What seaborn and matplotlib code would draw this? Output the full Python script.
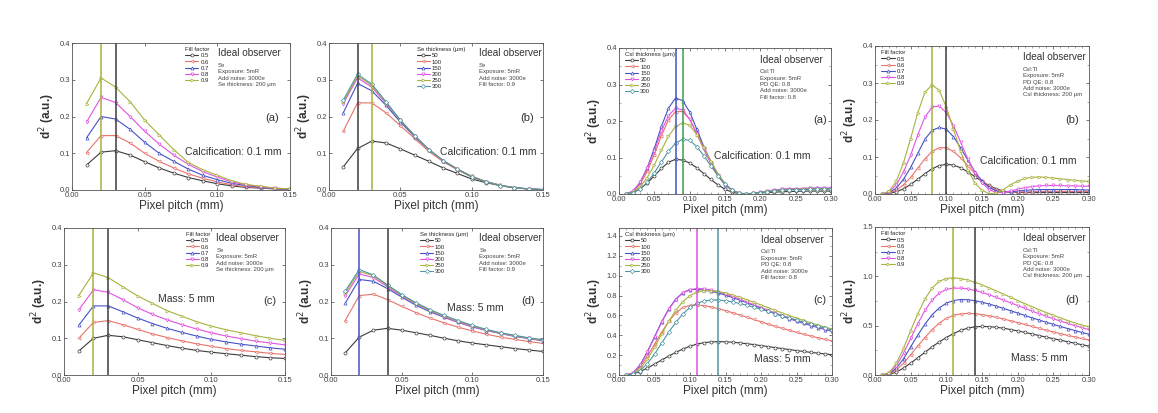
import matplotlib
matplotlib.use("Agg")
import matplotlib.pyplot as plt
import seaborn as sns
from matplotlib.ticker import AutoMinorLocator

# pixel pitch (mm)
se_pitch = [0.01, 0.02, 0.03, 0.04, 0.05, 0.06, 0.07, 0.08, 0.09, 0.10, 0.11, 0.12, 0.13, 0.14, 0.15]
csi_pitch = [0.01, 0.02, 0.03, 0.04, 0.05, 0.06, 0.07, 0.08, 0.09, 0.10,
             0.11, 0.12, 0.13, 0.14, 0.15, 0.16, 0.17, 0.18, 0.19, 0.20,
             0.21, 0.22, 0.23, 0.24, 0.25, 0.26, 0.27, 0.28, 0.29, 0.30]

fill_labels = ['0.5', '0.6', '0.7', '0.8', '0.9']
thick_labels = ['50', '100', '150', '200', '250', '300']

# Se, calcification, fill factor
se_calc_fill = [
    [0.068, 0.103, 0.107, 0.095, 0.077, 0.060, 0.046, 0.034, 0.025, 0.017, 0.011, 0.007, 0.005, 0.003, 0.001],
    [0.102, 0.148, 0.148, 0.128, 0.100, 0.078, 0.060, 0.044, 0.032, 0.022, 0.014, 0.009, 0.006, 0.003, 0.002],
    [0.142, 0.200, 0.193, 0.165, 0.130, 0.100, 0.078, 0.057, 0.040, 0.028, 0.018, 0.012, 0.007, 0.004, 0.002],
    [0.185, 0.252, 0.238, 0.200, 0.160, 0.125, 0.095, 0.070, 0.050, 0.035, 0.022, 0.014, 0.009, 0.005, 0.003],
    [0.235, 0.305, 0.280, 0.240, 0.190, 0.150, 0.110, 0.075, 0.055, 0.040, 0.025, 0.015, 0.010, 0.005, 0.003],
]
# Se, calcification, Se thickness
se_calc_thick = [
    [0.063, 0.113, 0.133, 0.128, 0.112, 0.095, 0.078, 0.060, 0.045, 0.030, 0.020, 0.012, 0.006, 0.003, 0.001],
    [0.160, 0.237, 0.237, 0.210, 0.175, 0.140, 0.105, 0.077, 0.055, 0.035, 0.022, 0.012, 0.006, 0.003, 0.001],
    [0.210, 0.290, 0.270, 0.230, 0.185, 0.145, 0.110, 0.080, 0.057, 0.037, 0.023, 0.013, 0.006, 0.003, 0.001],
    [0.235, 0.305, 0.280, 0.235, 0.190, 0.148, 0.110, 0.080, 0.057, 0.037, 0.023, 0.013, 0.006, 0.003, 0.001],
    [0.240, 0.310, 0.285, 0.238, 0.190, 0.148, 0.110, 0.080, 0.057, 0.037, 0.023, 0.013, 0.006, 0.003, 0.001],
    [0.245, 0.315, 0.288, 0.240, 0.190, 0.148, 0.110, 0.080, 0.056, 0.036, 0.022, 0.012, 0.006, 0.003, 0.001],
]
# Se, mass, fill factor
se_mass_fill = [
    [0.065, 0.100, 0.108, 0.104, 0.096, 0.088, 0.080, 0.073, 0.067, 0.062, 0.058, 0.054, 0.050, 0.047, 0.045],
    [0.100, 0.143, 0.148, 0.137, 0.124, 0.112, 0.102, 0.093, 0.085, 0.078, 0.072, 0.067, 0.063, 0.059, 0.056],
    [0.135, 0.188, 0.188, 0.172, 0.155, 0.140, 0.127, 0.116, 0.106, 0.097, 0.090, 0.084, 0.079, 0.074, 0.070],
    [0.177, 0.232, 0.225, 0.205, 0.183, 0.165, 0.150, 0.137, 0.125, 0.115, 0.106, 0.099, 0.092, 0.087, 0.082],
    [0.216, 0.278, 0.265, 0.240, 0.215, 0.195, 0.175, 0.160, 0.145, 0.133, 0.123, 0.115, 0.107, 0.100, 0.094],
]
# Se, mass, Se thickness
se_mass_thick = [
    [0.060, 0.103, 0.122, 0.127, 0.122, 0.115, 0.108, 0.100, 0.093, 0.087, 0.082, 0.077, 0.072, 0.068, 0.064],
    [0.148, 0.216, 0.220, 0.205, 0.187, 0.170, 0.155, 0.142, 0.130, 0.120, 0.111, 0.103, 0.097, 0.091, 0.086],
    [0.195, 0.260, 0.255, 0.235, 0.212, 0.190, 0.172, 0.157, 0.143, 0.131, 0.121, 0.113, 0.105, 0.099, 0.093],
    [0.215, 0.275, 0.265, 0.240, 0.215, 0.193, 0.175, 0.158, 0.144, 0.132, 0.122, 0.113, 0.106, 0.100, 0.094],
    [0.222, 0.282, 0.270, 0.243, 0.217, 0.195, 0.176, 0.160, 0.146, 0.134, 0.123, 0.114, 0.107, 0.100, 0.095],
    [0.228, 0.287, 0.272, 0.245, 0.219, 0.197, 0.178, 0.162, 0.148, 0.135, 0.124, 0.115, 0.108, 0.101, 0.096],
]
# CsI, calcification, CsI thickness
csi_calc_thick = [
    [0.000, 0.004, 0.014, 0.030, 0.050, 0.070, 0.087, 0.095, 0.093, 0.085, 0.072, 0.056, 0.040, 0.025, 0.013,
     0.005, 0.001, 0.000, 0.001, 0.003, 0.004, 0.005, 0.006, 0.007, 0.007, 0.008, 0.008, 0.008, 0.008, 0.008],
    [0.000, 0.007, 0.028, 0.062, 0.108, 0.160, 0.203, 0.226, 0.226, 0.205, 0.168, 0.126, 0.086, 0.052, 0.026,
     0.010, 0.002, 0.000, 0.002, 0.004, 0.007, 0.009, 0.011, 0.012, 0.013, 0.013, 0.014, 0.014, 0.014, 0.014],
    [0.000, 0.008, 0.032, 0.072, 0.125, 0.185, 0.235, 0.263, 0.256, 0.225, 0.178, 0.130, 0.088, 0.052, 0.026,
     0.010, 0.002, 0.000, 0.002, 0.005, 0.008, 0.011, 0.013, 0.014, 0.015, 0.015, 0.016, 0.016, 0.016, 0.016],
    [0.000, 0.008, 0.032, 0.070, 0.118, 0.172, 0.215, 0.235, 0.230, 0.205, 0.165, 0.122, 0.083, 0.050, 0.025,
     0.010, 0.002, 0.000, 0.002, 0.005, 0.008, 0.011, 0.013, 0.014, 0.015, 0.015, 0.016, 0.016, 0.016, 0.016],
    [0.000, 0.005, 0.020, 0.045, 0.080, 0.120, 0.158, 0.185, 0.195, 0.188, 0.163, 0.128, 0.090, 0.056, 0.029,
     0.011, 0.002, 0.000, 0.002, 0.004, 0.007, 0.009, 0.011, 0.012, 0.013, 0.013, 0.014, 0.014, 0.014, 0.014],
    [0.000, 0.004, 0.014, 0.032, 0.058, 0.088, 0.117, 0.139, 0.150, 0.147, 0.130, 0.105, 0.077, 0.050, 0.027,
     0.011, 0.003, 0.000, 0.002, 0.004, 0.006, 0.008, 0.010, 0.011, 0.012, 0.012, 0.013, 0.013, 0.013, 0.013],
]
# CsI, calcification, fill factor
csi_calc_fill = [
    [0.000, 0.002, 0.006, 0.014, 0.026, 0.040, 0.055, 0.068, 0.077, 0.080, 0.078, 0.071, 0.060, 0.047, 0.034,
     0.023, 0.014, 0.008, 0.005, 0.004, 0.004, 0.004, 0.004, 0.004, 0.004, 0.004, 0.004, 0.004, 0.004, 0.004],
    [0.000, 0.003, 0.010, 0.025, 0.045, 0.070, 0.095, 0.115, 0.125, 0.125, 0.115, 0.098, 0.077, 0.055, 0.036,
     0.021, 0.011, 0.006, 0.005, 0.005, 0.006, 0.006, 0.007, 0.007, 0.007, 0.007, 0.007, 0.007, 0.007, 0.007],
    [0.000, 0.004, 0.016, 0.040, 0.072, 0.110, 0.148, 0.172, 0.180, 0.175, 0.155, 0.125, 0.092, 0.060, 0.035,
     0.018, 0.008, 0.005, 0.006, 0.008, 0.010, 0.011, 0.012, 0.012, 0.012, 0.012, 0.012, 0.012, 0.011, 0.011],
    [0.000, 0.006, 0.025, 0.060, 0.105, 0.160, 0.208, 0.235, 0.238, 0.220, 0.185, 0.140, 0.095, 0.058, 0.030,
     0.012, 0.004, 0.004, 0.008, 0.013, 0.017, 0.020, 0.022, 0.023, 0.023, 0.023, 0.022, 0.022, 0.021, 0.021],
    [0.000, 0.008, 0.035, 0.085, 0.150, 0.220, 0.275, 0.295, 0.280, 0.235, 0.175, 0.115, 0.065, 0.030, 0.010,
     0.001, 0.002, 0.012, 0.025, 0.035, 0.042, 0.045, 0.046, 0.045, 0.043, 0.041, 0.039, 0.037, 0.035, 0.034],
]
# CsI, mass, CsI thickness
csi_mass_thick = [
    [0.000, 0.010, 0.035, 0.070, 0.110, 0.150, 0.190, 0.228, 0.262, 0.290, 0.312, 0.326, 0.333, 0.336, 0.334,
     0.330, 0.323, 0.315, 0.306, 0.296, 0.286, 0.276, 0.266, 0.256, 0.246, 0.237, 0.228, 0.220, 0.212, 0.205],
    [0.000, 0.018, 0.085, 0.190, 0.310, 0.430, 0.540, 0.625, 0.680, 0.700, 0.705, 0.698, 0.685, 0.668, 0.648,
     0.627, 0.605, 0.582, 0.559, 0.536, 0.513, 0.491, 0.470, 0.450, 0.430, 0.411, 0.393, 0.376, 0.360, 0.345],
    [0.000, 0.022, 0.105, 0.235, 0.385, 0.535, 0.665, 0.765, 0.830, 0.860, 0.862, 0.855, 0.843, 0.825, 0.803,
     0.780, 0.755, 0.728, 0.700, 0.672, 0.645, 0.618, 0.592, 0.567, 0.543, 0.520, 0.498, 0.478, 0.458, 0.440],
    [0.000, 0.020, 0.100, 0.230, 0.380, 0.530, 0.660, 0.760, 0.830, 0.860, 0.870, 0.868, 0.856, 0.838, 0.815,
     0.790, 0.763, 0.735, 0.707, 0.679, 0.651, 0.624, 0.598, 0.573, 0.549, 0.526, 0.504, 0.483, 0.463, 0.444],
    [0.000, 0.012, 0.065, 0.160, 0.280, 0.410, 0.540, 0.650, 0.740, 0.800, 0.835, 0.850, 0.850, 0.840, 0.825,
     0.805, 0.783, 0.758, 0.732, 0.705, 0.678, 0.651, 0.624, 0.598, 0.573, 0.549, 0.526, 0.504, 0.483, 0.463],
    [0.000, 0.008, 0.045, 0.115, 0.210, 0.320, 0.430, 0.530, 0.615, 0.680, 0.722, 0.745, 0.755, 0.755, 0.748,
     0.736, 0.720, 0.702, 0.682, 0.661, 0.640, 0.618, 0.596, 0.574, 0.553, 0.532, 0.511, 0.491, 0.472, 0.453],
]
# CsI, mass, fill factor
csi_mass_fill = [
    [0.000, 0.006, 0.030, 0.070, 0.120, 0.175, 0.230, 0.285, 0.335, 0.380, 0.420, 0.452, 0.475, 0.488, 0.492,
     0.490, 0.484, 0.474, 0.461, 0.447, 0.432, 0.416, 0.400, 0.384, 0.368, 0.352, 0.337, 0.322, 0.307, 0.293],
    [0.000, 0.010, 0.050, 0.120, 0.205, 0.295, 0.380, 0.460, 0.525, 0.575, 0.605, 0.620, 0.625, 0.622, 0.613,
     0.600, 0.585, 0.568, 0.550, 0.531, 0.512, 0.493, 0.474, 0.455, 0.437, 0.419, 0.402, 0.386, 0.370, 0.355],
    [0.000, 0.015, 0.070, 0.165, 0.285, 0.405, 0.515, 0.610, 0.680, 0.728, 0.755, 0.765, 0.763, 0.753, 0.738,
     0.719, 0.698, 0.675, 0.652, 0.628, 0.604, 0.580, 0.557, 0.535, 0.513, 0.492, 0.471, 0.451, 0.432, 0.413],
    [0.000, 0.020, 0.095, 0.220, 0.370, 0.520, 0.655, 0.760, 0.830, 0.868, 0.880, 0.880, 0.872, 0.857, 0.837,
     0.813, 0.787, 0.760, 0.732, 0.704, 0.676, 0.648, 0.621, 0.595, 0.570, 0.546, 0.523, 0.501, 0.480, 0.460],
    [0.000, 0.025, 0.120, 0.270, 0.450, 0.620, 0.770, 0.880, 0.950, 0.978, 0.985, 0.978, 0.962, 0.940, 0.913,
     0.883, 0.852, 0.820, 0.787, 0.755, 0.723, 0.692, 0.662, 0.633, 0.605, 0.578, 0.552, 0.528, 0.505, 0.490],
]

BLACK = '#3c3c3c'
RED = '#e8736b'
BLUE = '#4652c2'
MAG = '#e252e2'
OLIVE = '#a9b23e'
TEAL = '#4f96a2'
GREEN = '#3c9e55'
fill_colors = [BLACK, RED, BLUE, MAG, OLIVE]
thick_colors = [BLACK, RED, BLUE, MAG, OLIVE, TEAL]
fill_markers = ['o', '<', '^', 'v', '>']
thick_markers = ['o', '<', '^', 'v', '>', 'D']

se_info = "Se\nExposure: 5mR\nAdd noise: 3000e\n"
csi_info = "CsI:Tl\nExposure: 5mR\nPD QE: 0.8\nAdd noise: 3000e\n"

sns.set_style("ticks")
plt.rcParams['font.family'] = ['Liberation Sans', 'DejaVu Sans']

fig = plt.figure(figsize=(11.58, 4.13), dpi=100)


def panel(rect, x, series, labels, colors, markers, leg_title, leg_pos,
          info, info_pos, tag, tag_pos, note, note_pos, note_ha, vlines,
          xmax, ymax, yticks, minor):
    ax = fig.add_axes(rect)
    for ys, lab, col, mk in zip(series, labels, colors, markers):
        sns.lineplot(x=x, y=ys, ax=ax, color=col, marker=mk, markersize=2.2,
                     markerfacecolor='white', markeredgecolor=col,
                     markeredgewidth=0.5, linewidth=0.8, label=lab)
    for xv, col in vlines:
        ax.axvline(xv, color=col, linewidth=1.1)
    ax.set_xlim(0, xmax)
    ax.set_ylim(0, ymax)
    ax.set_yticks(yticks)
    ax.set_yticklabels(['%.1f' % v for v in yticks])
    xt = [0.00, 0.05, 0.10, 0.15] if xmax < 0.2 else [0.00, 0.05, 0.10, 0.15, 0.20, 0.25, 0.30]
    ax.set_xticks(xt)
    ax.set_xticklabels(['%.2f' % v for v in xt])
    ax.tick_params(direction='in', top=True, right=True, labelsize=5.5,
                   length=2.5, width=0.5, pad=1.5, colors='#444444')
    if minor:
        ax.xaxis.set_minor_locator(AutoMinorLocator(5))
        ax.yaxis.set_minor_locator(AutoMinorLocator(2))
        ax.tick_params(which='minor', direction='in', top=True, right=True,
                       length=1.3, width=0.4, colors='#666666')
    for s in ax.spines.values():
        s.set_linewidth(0.6)
        s.set_color('#555555')
    ax.set_xlabel('Pixel pitch (mm)', fontsize=8.5, labelpad=1, color='#333333')
    ax.set_ylabel('d$^2$ (a.u.)', fontsize=8.5, labelpad=2, color='#333333',
                  fontweight='bold')
    leg = ax.legend(loc='upper left', bbox_to_anchor=leg_pos, frameon=False,
                    fontsize=4.3, title=leg_title, title_fontsize=4.3,
                    handlelength=2.2, handletextpad=0.3, labelspacing=0.15,
                    borderpad=0, borderaxespad=0)
    leg._legend_box.align = 'left'
    ax.text(info_pos[0], info_pos[1], 'Ideal observer', transform=ax.transAxes,
            fontsize=7.2, va='top', ha='left', color='#333333')
    ax.text(info_pos[0], info_pos[1] - 0.1, info, transform=ax.transAxes,
            fontsize=4.3, va='top', ha='left', linespacing=1.35, color='#444444')
    ax.text(tag_pos[0], tag_pos[1], tag, transform=ax.transAxes, fontsize=8,
            va='center', ha='right', color='#333333')
    ax.text(note_pos[0], note_pos[1], note, transform=ax.transAxes, fontsize=7.5,
            va='center', ha=note_ha, color='#333333')
    return ax


top_h = 147 / 413
# top row
panel([72 / 1158, 223 / 413, 218 / 1158, top_h], se_pitch, se_calc_fill, fill_labels,
      fill_colors, fill_markers, 'Fill factor', (0.52, 0.97),
      se_info + "Se thickness: 200 \u03bcm", (0.67, 0.965), '(a)', (0.95, 0.49),
      'Calcification: 0.1 mm', (0.96, 0.26), 'right', [(0.02, OLIVE), (0.03, BLACK)],
      0.15, 0.4, [0.0, 0.1, 0.2, 0.3, 0.4], False)
panel([329 / 1158, 223 / 413, 214 / 1158, top_h], se_pitch, se_calc_thick, thick_labels,
      thick_colors, thick_markers, 'Se thickness (\u03bcm)', (0.41, 0.97),
      se_info + "Fill factor: 0.9", (0.70, 0.965), '(b)', (0.96, 0.49),
      'Calcification: 0.1 mm', (0.97, 0.26), 'right', [(0.02, BLACK), (0.03, OLIVE)],
      0.15, 0.4, [0.0, 0.1, 0.2, 0.3, 0.4], False)
panel([619 / 1158, 219 / 413, 212 / 1158, 146 / 413], csi_pitch, csi_calc_thick, thick_labels,
      thick_colors, thick_markers, 'CsI thickness (\u03bcm)', (0.03, 0.97),
      csi_info + "Fill factor: 0.8", (0.665, 0.955), '(a)', (0.98, 0.51),
      'Calcification: 0.1 mm', (0.45, 0.26), 'left', [(0.08, BLUE), (0.09, GREEN)],
      0.30, 0.4, [0.0, 0.1, 0.2, 0.3, 0.4], True)
panel([875 / 1158, 219 / 413, 214 / 1158, 148 / 413], csi_pitch, csi_calc_fill, fill_labels,
      fill_colors, fill_markers, 'Fill factor', (0.03, 0.97),
      csi_info + "CsI thickness: 200 \u03bcm", (0.69, 0.96), '(b)', (0.955, 0.50),
      'Calcification: 0.1 mm', (0.94, 0.225), 'right', [(0.08, OLIVE), (0.10, BLACK)],
      0.30, 0.4, [0.0, 0.1, 0.2, 0.3, 0.4], True)

# bottom row
panel([64 / 1158, 38 / 413, 221 / 1158, top_h], se_pitch, se_mass_fill, fill_labels,
      fill_colors, fill_markers, 'Fill factor', (0.55, 0.97),
      se_info + "Se thickness: 200 \u03bcm", (0.69, 0.965), '(c)', (0.96, 0.50),
      'Mass: 5 mm', (0.555, 0.52), 'center', [(0.02, OLIVE), (0.03, BLACK)],
      0.15, 0.4, [0.0, 0.1, 0.2, 0.3, 0.4], False)
panel([331 / 1158, 38 / 413, 212 / 1158, top_h], se_pitch, se_mass_thick, thick_labels,
      thick_colors, thick_markers, 'Se thickness (\u03bcm)', (0.42, 0.97),
      se_info + "Fill factor: 0.9", (0.70, 0.965), '(d)', (0.96, 0.50),
      'Mass: 5 mm', (0.68, 0.455), 'center', [(0.02, BLUE), (0.04, BLACK)],
      0.15, 0.4, [0.0, 0.1, 0.2, 0.3, 0.4], False)
panel([619 / 1158, 38 / 413, 213 / 1158, top_h], csi_pitch, csi_mass_thick, thick_labels,
      thick_colors, thick_markers, 'CsI thickness (\u03bcm)', (0.03, 0.97),
      csi_info + "Fill factor: 0.8", (0.665, 0.955), '(c)', (0.975, 0.51),
      'Mass: 5 mm', (0.90, 0.107), 'right', [(0.11, MAG), (0.14, TEAL)],
      0.30, 1.48, [0.0, 0.2, 0.4, 0.6, 0.8, 1.0, 1.2, 1.4], True)
panel([875 / 1158, 38 / 413, 214 / 1158, 148 / 413], csi_pitch, csi_mass_fill, fill_labels,
      fill_colors, fill_markers, 'Fill factor', (0.03, 0.97),
      csi_info + "CsI thickness: 200 \u03bcm", (0.69, 0.96), '(d)', (0.955, 0.51),
      'Mass: 5 mm', (0.90, 0.113), 'right', [(0.11, OLIVE), (0.14, BLACK)],
      0.30, 1.5, [0.0, 0.5, 1.0, 1.5], True)

fig.savefig('out.png', dpi=100)
